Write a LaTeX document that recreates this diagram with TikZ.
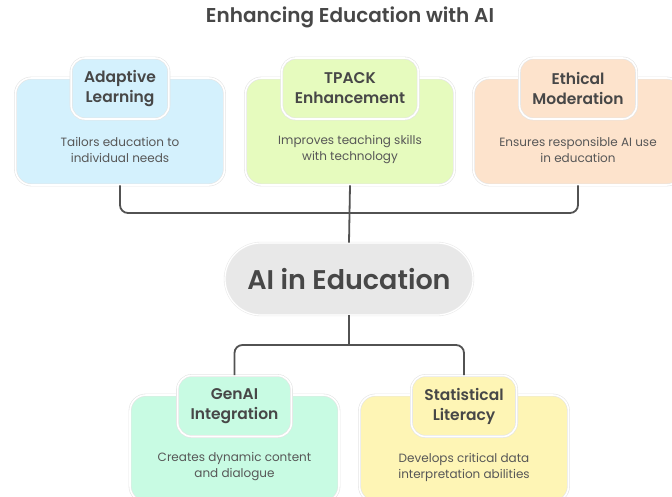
\documentclass[tikz,border=0pt]{standalone}
\usepackage{fontspec}
\setmainfont{Poppins}
\newfontfamily\headfont{Poppins}[BoldFont={* SemiBold}]
\begin{document}
\begin{tikzpicture}[x=1pt,y=-1pt,
  ink/.style={text=black!72},
  card/.style={rounded corners=16pt, draw=black!10, line width=0.6pt, double=white, double distance=1.6pt,
     minimum width=209pt, minimum height=107pt, inner sep=0pt},
  tag/.style={rounded corners=14pt, draw=black!10, line width=0.6pt, double=white, double distance=1.6pt,
     minimum height=61pt, inner xsep=13pt, inner ysep=0pt, align=center, ink,
     font=\headfont\fontsize{15.5pt}{20pt}\selectfont\bfseries},
  note/.style={align=center, text=black!66, font=\fontsize{12pt}{16pt}\selectfont},
  link/.style={draw=black!68, line width=1.8pt, rounded corners=8pt}
]
\definecolor{cblue}{HTML}{D4F1FD}
\definecolor{cgreen}{HTML}{E6FBBE}
\definecolor{cpeach}{HTML}{FDE3CC}
\definecolor{cmint}{HTML}{C8FBE3}
\definecolor{cyellow}{HTML}{FEF5B5}
\definecolor{cgray}{HTML}{E8E8E8}

\useasboundingbox (0,0) rectangle (672,497);
\clip (0,0) rectangle (672,497);

% heading
\node[ink, font=\headfont\fontsize{20pt}{22pt}\selectfont\bfseries] (title) at (350,17) {Enhancing Education with AI};

% upper row of cards
\node[card, fill=cblue]  (adapt) at (120,131.5) {};
\node[card, fill=cgreen] (tpack) at (350,131.5) {};
\node[card, fill=cpeach] (ethic) at (578,131.5) {};

\node[tag, fill=cblue]  (adaptT) at (120,88.5) {Adaptive\\Learning};
\node[tag, fill=cgreen] (tpackT) at (350,88.5) {TPACK\\Enhancement};
\node[tag, fill=cpeach] (ethicT) at (578,88.5) {Ethical\\Moderation};

\node[note] (adaptD) at (120,150) {Tailors education to\\individual needs};
\node[note] (tpackD) at (350,150) {Improves teaching skills\\with technology};
\node[note] (ethicD) at (578,150) {Ensures responsible AI use\\in education};

% central topic
\node[rounded corners=36pt, draw=black!8, line width=0.6pt, double=white, double distance=1.2pt,
      fill=cgray, minimum width=248pt, minimum height=72pt, ink,
      font=\headfont\fontsize{27pt}{30pt}\selectfont\bfseries] (ai) at (349,279) {AI in Education};

% lower row of cards
\node[card, fill=cmint]   (genai) at (234.5,448.5) {};
\node[card, fill=cyellow] (stat)  at (464,448.5) {};

\node[tag, fill=cmint]   (genaiT) at (234.5,406) {GenAI\\Integration};
\node[tag, fill=cyellow] (statT)  at (464,406) {Statistical\\Literacy};

\node[note] (genaiD) at (234.5,467) {Creates dynamic content\\and dialogue};
\node[note] (statD)  at (464,467) {Develops critical data\\interpretation abilities};

% connectors
\coordinate (jtop) at (349,213);
\coordinate (jbot) at (349,345);
\draw[link] (adapt.south) |- (jtop);
\draw[link] (ethic.south) |- (jtop);
\draw[link] (tpack.south) -- (ai.north);
\draw[link] (ai.south) -- (jbot);
\draw[link] (jbot) -| (genaiT.north);
\draw[link] (jbot) -| (statT.north);
\end{tikzpicture}
\end{document}
